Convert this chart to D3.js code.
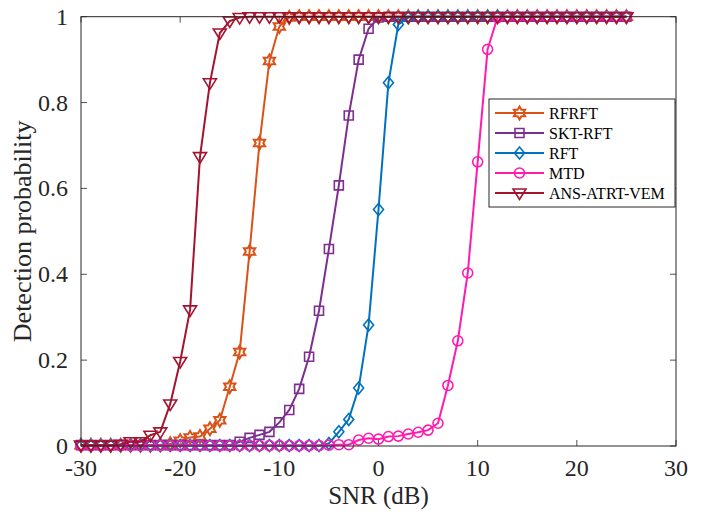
<!DOCTYPE html>
<html>
<head>
<meta charset="utf-8">
<script src="https://cdn.jsdelivr.net/npm/d3@7"></script>
<style>
  html, body { margin: 0; padding: 0; background: #fff; }
  svg { display: block; font-family: "Liberation Serif", "Times New Roman", serif; }
</style>
</head>
<body>
<svg id="chart" width="701" height="514"></svg>
<script>
// ---- data ----
const snr = d3.range(-30, 26, 1);
const seriesNames = ["RFRFT", "SKT-RFT", "RFT", "MTD", "ANS-ATRT-VEM"];
const rfrft = [0.002,0.002,0.002,0.002,0.002,0.002,0.002,0.002,0.003,0.005,
               0.012,0.020,0.022,0.040,0.060,0.138,0.219,0.453,0.706,0.897,
               0.977,0.998,1,1,1,1,1,1,1,1,
               1,1,1,1,1,1,1,1,1,1,
               1,1,1,1,1,1,1,1,1,1,
               1,1,1,1,1,1];
const sktrft = [0.002,0.002,0.002,0.002,0.002,0.002,0.002,0.002,0.002,0.002,
                0.002,0.002,0.002,0.002,0.002,0.002,0.010,0.019,0.026,0.033,
                0.055,0.084,0.133,0.208,0.315,0.459,0.607,0.770,0.900,0.972,
                0.998,1,1,1,1,1,1,1,1,1,
                1,1,1,1,1,1,1,1,1,1,
                1,1,1,1,1,1];
const rft = [0.001,0.001,0.001,0.001,0.001,0.001,0.001,0.001,0.001,0.001,
             0.001,0.001,0.001,0.001,0.001,0.001,0.001,0.001,0.001,0.001,
             0.001,0.001,0.001,0.001,0.001,0.006,0.033,0.062,0.135,0.282,
             0.551,0.846,0.982,0.998,1,1,1,1,1,1,
             1,1,1,1,1,1,1,1,1,1,
             1,1,1,1,1,1];
const mtd = [0.001,0.001,0.001,0.001,0.001,0.001,0.001,0.001,0.001,0.001,
             0.001,0.001,0.001,0.001,0.001,0.001,0.001,0.001,0.001,0.001,
             0.001,0.001,0.001,0.001,0.001,0.002,0.003,0.003,0.014,0.018,
             0.016,0.022,0.023,0.028,0.032,0.037,0.053,0.141,0.245,0.403,
             0.662,0.924,0.998,1,1,1,1,1,1,1,
             1,1,1,1,1,1];
const ans = [0.002,0.002,0.002,0.002,0.004,0.010,0.010,0.025,0.033,0.098,
             0.197,0.317,0.674,0.846,0.962,0.990,0.998,1,1,1,
             1,1,1,1,1,1,1,1,1,1,
             1,1,1,1,1,1,1,1,1,1,
             1,1,1,1,1,1,1,1,1,1,
             1,1,1,1,1,1];
const xTicks = [-30, -20, -10, 0, 10, 20, 30];
const yTicks = [0, 0.2, 0.4, 0.6, 0.8, 1];
const yTickLabels = ["0", "0.2", "0.4", "0.6", "0.8", "1"];

// ---- styles ----
const colors = ["#D95319", "#7E2F8E", "#0072BD", "#FF1AB0", "#A2142F"];
const markers = ["hexagram", "square", "diamond", "circle", "triangledown"];
const values = [rfrft, sktrft, rft, mtd, ans];

const svg = d3.select("#chart");
const L = 81, R = 676, T = 16.7, B = 446;
const x = d3.scaleLinear().domain([-30, 30]).range([L, R]);
const y = d3.scaleLinear().domain([0, 1]).range([B, T]);
const axisColor = "#262626";

function markerPath(type) {
  switch (type) {
    case "hexagram": {
      const ro = 6.5, ri = ro / Math.sqrt(3);
      const pts = [];
      for (let i = 0; i < 12; i++) {
        const a = -Math.PI / 2 + i * Math.PI / 6;
        const r = i % 2 === 0 ? ro : ri;
        pts.push([r * Math.cos(a), r * Math.sin(a)]);
      }
      return "M" + pts.map(p => p[0].toFixed(2) + "," + p[1].toFixed(2)).join("L") + "Z";
    }
    case "square": return "M-4.5,-4.5H4.5V4.5H-4.5Z";
    case "diamond": return "M0,-6L5,0L0,6L-5,0Z";
    case "circle": return "M5,0A5,5 0 1,1 -5,0A5,5 0 1,1 5,0Z";
    case "triangledown": return "M-6.5,-4L6.5,-4L0,6.5Z";
  }
}

// ---- ticks ----
const tickLen = 6;
const gT = svg.append("g");
xTicks.forEach(t => {
  gT.append("line").attr("x1", x(t)).attr("x2", x(t)).attr("y1", B).attr("y2", B - tickLen)
    .attr("stroke", axisColor).attr("stroke-width", 0.8);
  gT.append("line").attr("x1", x(t)).attr("x2", x(t)).attr("y1", T).attr("y2", T + tickLen)
    .attr("stroke", axisColor).attr("stroke-width", 0.8);
  gT.append("text").attr("x", x(t)).attr("y", 476).attr("text-anchor", "middle")
    .attr("font-size", 24).attr("fill", axisColor).text(t);
});
yTicks.forEach((t, i) => {
  gT.append("line").attr("x1", L).attr("x2", L + tickLen).attr("y1", y(t)).attr("y2", y(t))
    .attr("stroke", axisColor).attr("stroke-width", 0.8);
  gT.append("line").attr("x1", R).attr("x2", R - tickLen).attr("y1", y(t)).attr("y2", y(t))
    .attr("stroke", axisColor).attr("stroke-width", 0.8);
  gT.append("text").attr("x", 68).attr("y", y(t) + 8).attr("text-anchor", "end")
    .attr("font-size", 24).attr("fill", axisColor).text(yTickLabels[i]);
});

// ---- series ----
const line = d3.line().x((d, i) => x(snr[i])).y(d => y(d));
values.forEach((vals, k) => {
  const g = svg.append("g");
  g.append("path").datum(vals).attr("d", line).attr("fill", "none")
    .attr("stroke", colors[k]).attr("stroke-width", 2);
  g.selectAll("path.m").data(vals).join("path").attr("class", "m")
    .attr("d", markerPath(markers[k]))
    .attr("transform", (d, i) => `translate(${x(snr[i])},${y(d)})`)
    .attr("fill", "none").attr("stroke", colors[k]).attr("stroke-width", k === 0 ? 2 : 1.6);
});

// ---- box ----
svg.append("rect").attr("x", L).attr("y", T).attr("width", R - L).attr("height", B - T)
  .attr("fill", "none").attr("stroke", axisColor).attr("stroke-width", 1);

// ---- axis labels ----
svg.append("text").attr("x", (L + R) / 2).attr("y", 504).attr("text-anchor", "middle")
  .attr("font-size", 25).attr("fill", axisColor).text("SNR (dB)");
svg.append("text").attr("transform", `translate(31,${(T + B) / 2}) rotate(-90)`)
  .attr("text-anchor", "middle").attr("font-size", 26).attr("fill", axisColor)
  .text("Detection probability");

// ---- legend ----
const lg = svg.append("g");
const lx = 489, ly = 99, lw = 186, lh = 108;
lg.append("rect").attr("x", lx).attr("y", ly).attr("width", lw).attr("height", lh)
  .attr("fill", "#fff").attr("stroke", axisColor).attr("stroke-width", 1);
seriesNames.forEach((name, k) => {
  const yy = 113 + k * 20;
  lg.append("line").attr("x1", 495).attr("x2", 544).attr("y1", yy).attr("y2", yy)
    .attr("stroke", colors[k]).attr("stroke-width", 2);
  lg.append("path").attr("d", markerPath(markers[k]))
    .attr("transform", `translate(519.5,${yy})`)
    .attr("fill", "none").attr("stroke", colors[k]).attr("stroke-width", k === 0 ? 2 : 1.6);
  lg.append("text").attr("x", 549).attr("y", yy + 5.5).attr("font-size", 16)
    .attr("fill", "#000").text(name);
});
</script>
</body>
</html>
